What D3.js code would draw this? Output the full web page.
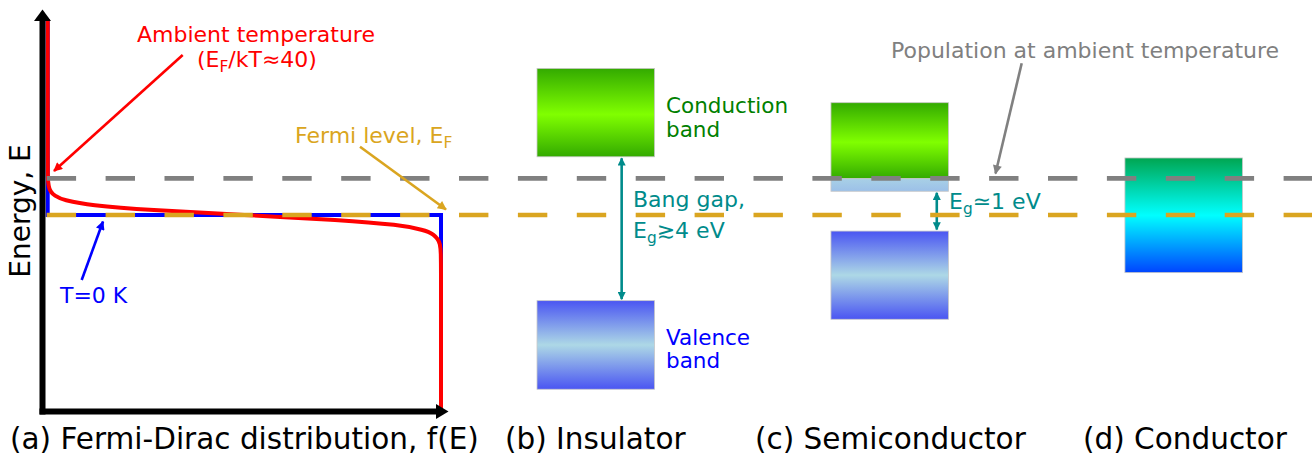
<!DOCTYPE html>
<html lang="en">
<head>
<meta charset="UTF-8">
<title>Fermi-Dirac distribution and band structures</title>
<script src="https://d3js.org/d3.v7.min.js"></script>
<style>
  body { margin: 0; background: #fff; }
  svg { display: block; font-family: "DejaVu Sans", sans-serif; }
</style>
</head>
<body>
<svg id="chart" width="1312" height="456"></svg>
<script>
// energies are in units of E_F (E_F = 1), occupation f between 0 and 1
const ambientE = [2.0, 1.30, 1.20, 1.15, 1.12, 1.10, 1.075, 1.05, 1.025, 1.0, 0.975, 0.95, 0.925, 0.90, 0.85, 0.80, 0.70, 0.0];
const ambientF = [0, 0.0001, 0.0004, 0.0025, 0.008, 0.018, 0.047, 0.12, 0.27, 0.50, 0.73, 0.88, 0.95, 0.98, 0.997, 0.9995, 1, 1];
const zeroKE = [2.0, 1, 1, 0];
const zeroKF = [0, 0, 1, 1];

const levelNames = ["population", "fermi"];
const levelE = [1.187, 1.0];

const panels = ["b", "c", "d"];
const panelLabels = ["(a) Fermi-Dirac distribution, f(E)", "(b) Insulator", "(c) Semiconductor", "(d) Conductor"];

const bandPanel = ["b", "b", "c", "c", "c", "d"];
const bandKind = ["conduction", "valence", "conduction", "occupied", "valence", "metal"];
const bandTop = [1.748, 0.563, 1.573, 1.185, 0.918, 1.291];
const bandBottom = [1.297, 0.111, 1.185, 1.121, 0.468, 0.706];

const gapPanel = ["b", "c"];
const gapTop = [1.297, 1.121];
const gapBottom = [0.563, 0.918];

const svg = d3.select("#chart");

const fx = d3.scaleLinear().domain([0, 1]).range([47.7, 441]);
const ey = d3.scaleLinear().domain([0, 1]).range([411, 215]);
const px = d3.scaleBand().domain(panels).range([537, 1242.5]).paddingInner(0.6);

const levelColor = { population: "#808080", fermi: "#daa520" };
const teal = "#008b8b";

// gradients
const defs = svg.append("defs");
const grads = {
  conduction: [["0%", "#33aa00"], ["52%", "#80ff00"], ["100%", "#33aa00"]],
  valence: [["0%", "#4a55f2"], ["50%", "#add8e6"], ["100%", "#4a55f2"]],
  occupied: [["0%", "#a8d0e6"], ["100%", "#9cc0e8"]],
  metal: [["0%", "#00a651"], ["50%", "#00ffff"], ["100%", "#0044ff"]]
};
Object.entries(grads).forEach(([k, stops]) => {
  const g = defs.append("linearGradient").attr("id", "g-" + k)
    .attr("x1", 0).attr("y1", 0).attr("x2", 0).attr("y2", 1);
  stops.forEach(s => g.append("stop").attr("offset", s[0]).attr("stop-color", s[1]));
});

function marker(id, color, w, h) {
  defs.append("marker").attr("id", id)
    .attr("viewBox", "0 0 10 10").attr("refX", 9).attr("refY", 5)
    .attr("markerUnits", "userSpaceOnUse")
    .attr("markerWidth", w).attr("markerHeight", h)
    .attr("orient", "auto-start-reverse")
    .append("path").attr("d", "M0,0 L10,5 L0,10 Z").attr("fill", color);
}
marker("a-red", "#ff0000", 11, 9);
marker("a-gold", "#daa520", 11, 9);
marker("a-blue", "#0000ff", 11, 9);
marker("a-gray", "#808080", 11, 9);
marker("a-teal", teal, 9, 8);

// bands
const bands = bandPanel.map((p, i) => ({ p, kind: bandKind[i], top: bandTop[i], bottom: bandBottom[i] }));
svg.append("g").selectAll("rect").data(bands).join("rect")
  .attr("x", d => px(d.p))
  .attr("y", d => ey(d.top))
  .attr("width", px.bandwidth())
  .attr("height", d => ey(d.bottom) - ey(d.top))
  .attr("fill", d => `url(#g-${d.kind})`)
  .attr("stroke", "#c8c8c8").attr("stroke-width", 0.8);

// band gap arrows
const gapX = { b: 0.72, c: 0.9 };
svg.append("g").selectAll("line").data(gapPanel).join("line")
  .attr("x1", (d) => px(d) + px.bandwidth() * gapX[d])
  .attr("x2", (d) => px(d) + px.bandwidth() * gapX[d])
  .attr("y1", (d, i) => ey(gapTop[i]) + 1.5)
  .attr("y2", (d, i) => ey(gapBottom[i]) - 1.5)
  .attr("stroke", teal).attr("stroke-width", 2.6)
  .attr("marker-start", "url(#a-teal)").attr("marker-end", "url(#a-teal)");

// distribution curves
const zeroK = zeroKE.map((e, i) => [fx(zeroKF[i]), ey(e)]);
svg.append("path").attr("d", d3.line()(zeroK))
  .attr("fill", "none").attr("stroke", "#0000ff").attr("stroke-width", 4);

const ambient = ambientE.map((e, i) => [fx(ambientF[i]), ey(e)]);
svg.append("path").attr("d", d3.line().curve(d3.curveMonotoneY)(ambient))
  .attr("fill", "none").attr("stroke", "#ff0000").attr("stroke-width", 4);

// dashed levels
svg.append("g").selectAll("line").data(levelNames).join("line")
  .attr("x1", 46.7).attr("x2", 1312)
  .attr("y1", (d, i) => ey(levelE[i])).attr("y2", (d, i) => ey(levelE[i]))
  .attr("stroke", d => levelColor[d]).attr("stroke-width", 4.7)
  .attr("stroke-dasharray", "29.4 29.5");

// axes
const ax = fx(0) - 5.2, ay = ey(0) + 0.5;
svg.append("path").attr("d", `M${ax},${ay + 3} V20`).attr("stroke", "#000").attr("stroke-width", 6);
svg.append("path").attr("d", `M${ax - 8.5},21 L${ax},9.5 L${ax + 8.5},21 Z`).attr("fill", "#000");
svg.append("path").attr("d", `M${ax - 3},${ay} H437`).attr("stroke", "#000").attr("stroke-width", 6);
svg.append("path").attr("d", `M436,${ay - 7.5} L448.5,${ay} L436,${ay + 7.5} Z`).attr("fill", "#000");

svg.append("text").attr("transform", `translate(30,211) rotate(-90)`)
  .attr("text-anchor", "middle").attr("font-size", 28).text("Energy, E");

// annotation arrows
const arrows = [
  [182.7, 55, 54, 171, "a-red", "#ff0000"],
  [360, 146.7, 446, 209.5, "a-gold", "#daa520"],
  [81.7, 280, 103, 221.5, "a-blue", "#0000ff"],
  [1021.7, 63.3, 995.5, 173.5, "a-gray", "#808080"]
];
svg.append("g").selectAll("line").data(arrows).join("line")
  .attr("x1", d => d[0]).attr("y1", d => d[1]).attr("x2", d => d[2]).attr("y2", d => d[3])
  .attr("stroke", d => d[5]).attr("stroke-width", 2.6).attr("marker-end", d => `url(#${d[4]})`);

// texts; {sub: ...} parts are lowered subscripts
function label(x, y, color, parts, size) {
  size = size || 22;
  const t = svg.append("text").attr("x", x).attr("y", y).attr("fill", color).attr("font-size", size);
  let lowered = false;
  parts.forEach(p => {
    if (typeof p === "string") {
      const s = t.append("tspan").text(p);
      if (lowered) s.attr("dy", -5);
      lowered = false;
    } else {
      t.append("tspan").attr("font-size", size * 0.7).attr("dy", 5).text(p.sub);
      lowered = true;
    }
  });
  return t;
}
label(137, 41.7, "#ff0000", ["Ambient temperature"]);
label(197, 66.7, "#ff0000", ["(E", { sub: "F" }, "/kT\u224840)"]);
label(295, 143.3, "#daa520", ["Fermi level, E", { sub: "F" }]);
label(60, 303.3, "#0000ff", ["T=0 K"]);
label(666, 113, "#008000", ["Conduction"], 21.5);
label(666, 137, "#008000", ["band"], 21.5);
label(666, 345, "#0000ff", ["Valence"], 21.5);
label(666, 368, "#0000ff", ["band"], 21.5);
label(633, 207, teal, ["Bang gap,"]);
label(633, 238, teal, ["E", { sub: "g" }, "\u22734 eV"]);
label(949, 209, teal, ["E", { sub: "g" }, "\u22431 eV"]);
label(891, 58, "#808080", ["Population at ambient temperature"]);

const labelX = [10, 505, 755, 1083];
svg.append("g").selectAll("text").data(panelLabels).join("text")
  .attr("x", (d, i) => labelX[i]).attr("y", 449)
  .attr("font-size", 29.5).attr("fill", "#000").text(d => d);
</script>
</body>
</html>
